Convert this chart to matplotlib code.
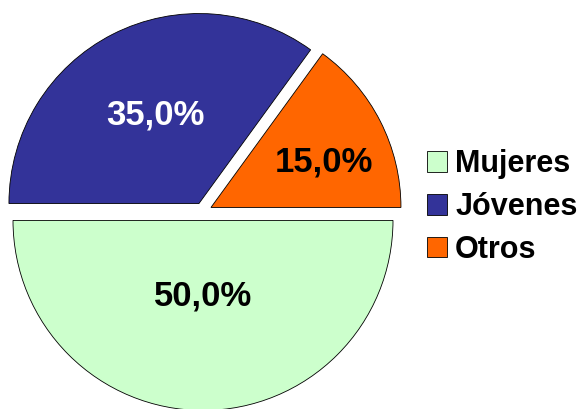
import numpy as np
import matplotlib
matplotlib.use("Agg")
import matplotlib.pyplot as plt
from matplotlib.patches import Patch

categories = ["Mujeres", "Jóvenes", "Otros"]
values = [50.0, 35.0, 15.0]
colors = ["#CCFFCC", "#333399", "#FF6600"]
label_colors = ["black", "white", "black"]
label_dist = [0.40, 0.52, 0.64]
label_angle_shift = [0.0, -1.0, -5.0]

plt.rcParams["font.family"] = ["Liberation Sans", "DejaVu Sans"]

W, H = 582, 409
fig = plt.figure(figsize=(W / 100, H / 100), dpi=100)

# pie placed in pixel space: centre (203, 211.5) from top-left, radius 190 px
cx, cy, r_px, lim = 203, 211.5, 190, 1.1
side = 2 * lim * r_px
ax = fig.add_axes([(cx - side / 2) / W, ((H - cy) - side / 2) / H, side / W, side / H])

wedges, _, autotexts = ax.pie(
    values, colors=colors, startangle=0, counterclock=False,
    explode=[0.047] * 3, autopct=lambda p: f"{p:.1f}".replace(".", ",") + "%",
    pctdistance=0.5,
    wedgeprops=dict(edgecolor="black", linewidth=0.6),
    textprops=dict(fontsize=25, fontweight="bold"),
)
for w, t, d, s, c in zip(wedges, autotexts, label_dist, label_angle_shift, label_colors):
    mid = np.deg2rad((w.theta1 + w.theta2) / 2 + s)
    x0, y0 = w.center
    t.set_position((x0 + d * np.cos(mid), y0 + d * np.sin(mid)))
    t.set_color(c)
ax.set_xlim(-lim, lim)
ax.set_ylim(-lim, lim)
ax.set_aspect("equal")
ax.axis("off")

handles = [Patch(facecolor=c, edgecolor="black", linewidth=0.6) for c in colors]
fig.legend(handles, categories, loc="center left", bbox_to_anchor=(427 / W, 1 - 207 / H),
           frameon=False, prop=dict(size=22, weight="bold"),
           handlelength=0.66, handleheight=0.66, handletextpad=0.26, labelspacing=0.42,
           borderpad=0, borderaxespad=0)

fig.savefig("out.png", dpi=100)
